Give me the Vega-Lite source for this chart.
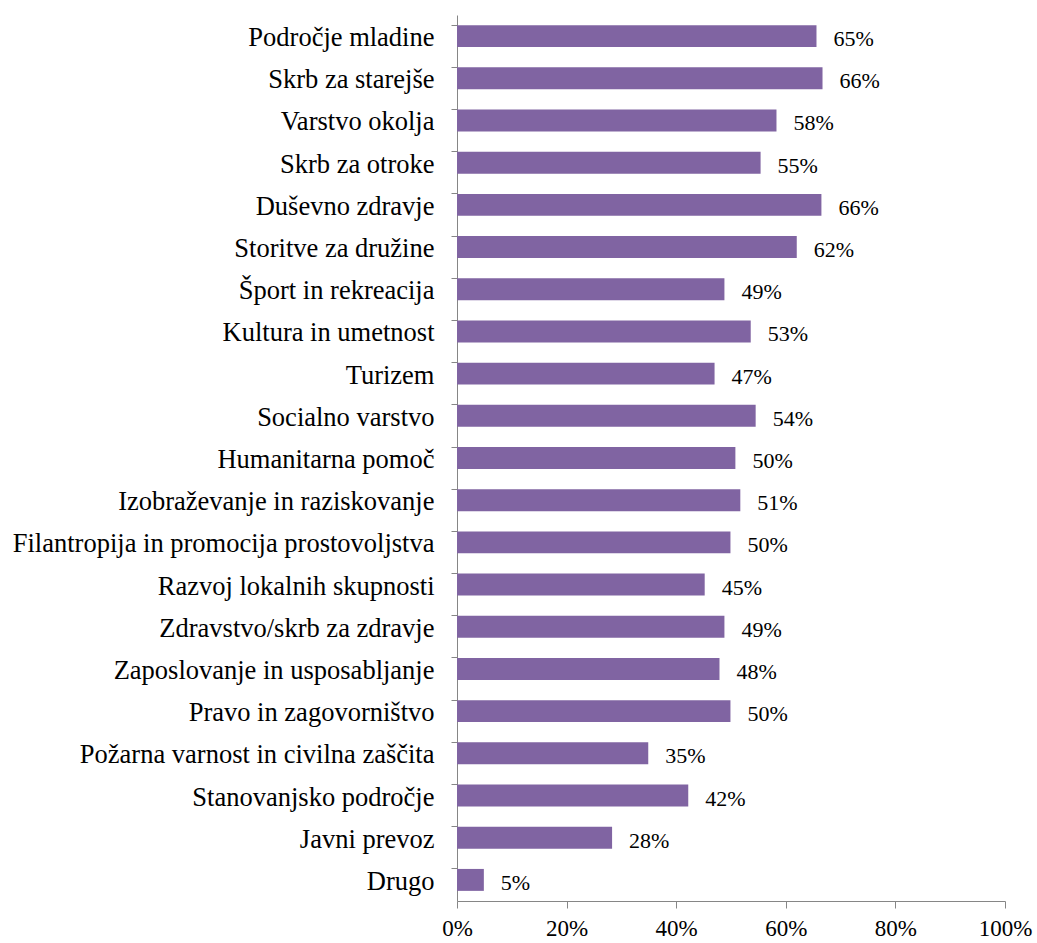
{
  "$schema": "https://vega.github.io/schema/vega-lite/v6.json",
  "width": 548,
  "height": 886,
  "padding": {"left": 12, "top": 15, "right": 30, "bottom": 0},
  "background": "white",
  "config": {
    "view": {"stroke": null},
    "font": "'Liberation Serif', 'Times New Roman', serif",
    "axis": {"labelFont": "'Liberation Serif', 'Times New Roman', serif"},
    "text": {"font": "'Liberation Serif', 'Times New Roman', serif"}
  },
  "data": {
    "values": [
      {"category": "Področje mladine", "value": 0.656, "label": "65%"},
      {"category": "Skrb za starejše", "value": 0.667, "label": "66%"},
      {"category": "Varstvo okolja", "value": 0.583, "label": "58%"},
      {"category": "Skrb za otroke", "value": 0.554, "label": "55%"},
      {"category": "Duševno zdravje", "value": 0.665, "label": "66%"},
      {"category": "Storitve za družine", "value": 0.620, "label": "62%"},
      {"category": "Šport in rekreacija", "value": 0.488, "label": "49%"},
      {"category": "Kultura in umetnost", "value": 0.536, "label": "53%"},
      {"category": "Turizem", "value": 0.470, "label": "47%"},
      {"category": "Socialno varstvo", "value": 0.545, "label": "54%"},
      {"category": "Humanitarna pomoč", "value": 0.508, "label": "50%"},
      {"category": "Izobraževanje in raziskovanje", "value": 0.517, "label": "51%"},
      {"category": "Filantropija in promocija prostovoljstva", "value": 0.499, "label": "50%"},
      {"category": "Razvoj lokalnih skupnosti", "value": 0.452, "label": "45%"},
      {"category": "Zdravstvo/skrb za zdravje", "value": 0.488, "label": "49%"},
      {"category": "Zaposlovanje in usposabljanje", "value": 0.479, "label": "48%"},
      {"category": "Pravo in zagovorništvo", "value": 0.499, "label": "50%"},
      {"category": "Požarna varnost in civilna zaščita", "value": 0.349, "label": "35%"},
      {"category": "Stanovanjsko področje", "value": 0.422, "label": "42%"},
      {"category": "Javni prevoz", "value": 0.283, "label": "28%"},
      {"category": "Drugo", "value": 0.049, "label": "5%"}
    ]
  },
  "encoding": {
    "y": {
      "field": "category",
      "type": "nominal",
      "sort": null,
      "scale": {"paddingInner": 0.48, "paddingOuter": 0.24},
      "axis": {
        "title": null,
        "bandPosition": 0,
        "domainColor": "#868686",
        "tickColor": "#868686",
        "tickSize": 6,
        "labelPadding": 17,
        "labelFontSize": 26.5,
        "labelOffset": 2,
        "labelColor": "black",
        "labelLimit": 600
      }
    },
    "x": {
      "field": "value",
      "type": "quantitative",
      "scale": {"domain": [0, 1], "nice": false},
      "axis": {
        "title": null,
        "format": "%",
        "values": [0, 0.2, 0.4, 0.6, 0.8, 1],
        "grid": false,
        "domainColor": "#868686",
        "tickColor": "#868686",
        "tickSize": 7,
        "labelPadding": 9,
        "labelFontSize": 23,
        "labelColor": "black",
        "labelFlush": false
      }
    }
  },
  "layer": [
    {"mark": {"type": "bar", "color": "#8064A2"}},
    {
      "mark": {"type": "text", "align": "left", "baseline": "middle", "dx": 17, "dy": 3, "fontSize": 22, "color": "black"},
      "encoding": {"text": {"field": "label"}}
    }
  ]
}
